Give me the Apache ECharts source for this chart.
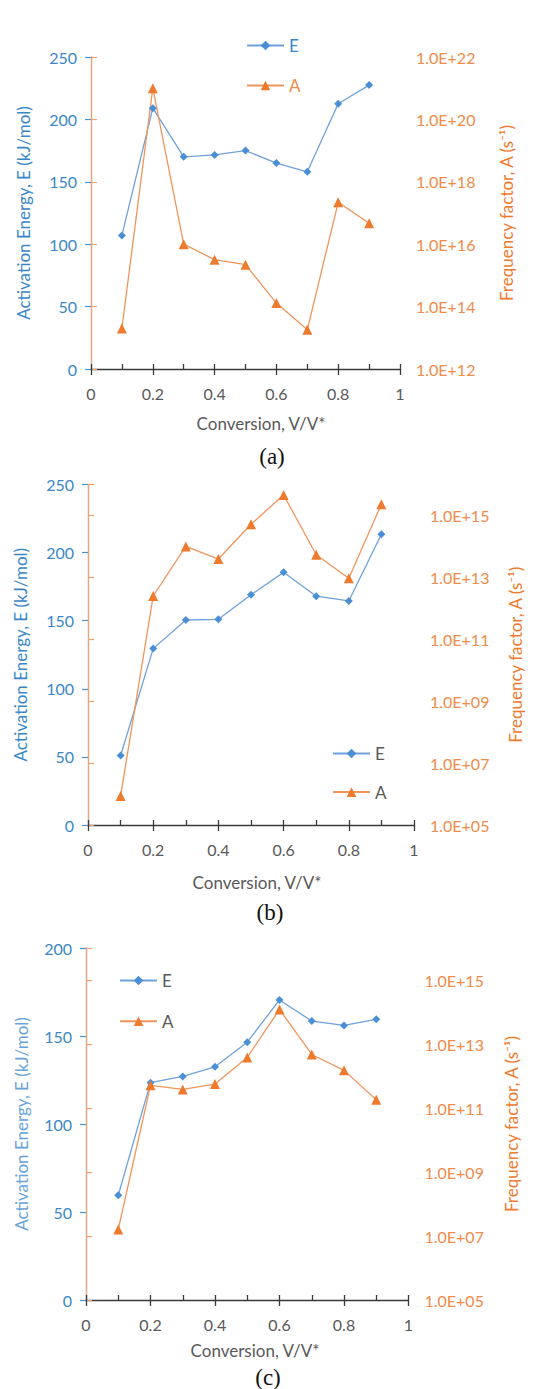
<!DOCTYPE html>
<html>
<head>
<meta charset="utf-8">
<script src="https://cdn.jsdelivr.net/npm/echarts@6/dist/echarts.min.js"></script>
<style>
html,body{margin:0;padding:0;background:#fff;}
#chart{width:556px;height:1389px;}
</style>
</head>
<body>
<div id="chart"></div>
<script>
// ---- data ----
const conversion = [0.1, 0.2, 0.3, 0.4, 0.5, 0.6, 0.7, 0.8, 0.9];
const E_a = [107, 209, 170, 171.5, 175, 165, 158, 212.5, 227.5];
const A_a = [2e13, 1e21, 1e16, 3.2e15, 2.2e15, 1.3e14, 1.8e13, 2.2e17, 4.7e16];
const E_b = [51, 129.5, 150.5, 151, 169, 185.5, 168, 164.5, 213.5];
const A_b = [8.7e5, 2.5e12, 1e14, 3.9e13, 5.2e14, 4.6e15, 5.4e13, 9.4e12, 2.3e15];
const E_c = [59.5, 123.5, 127, 132.5, 146.5, 170.5, 158.5, 156, 159.5];
const A_c = [1.6e7, 5.1e11, 3.8e11, 5.6e11, 3.8e12, 1.2e14, 4.7e12, 1.5e12, 1.8e11];
const xTicks = [0, 0.2, 0.4, 0.6, 0.8, 1];
const panelLabels = ['(a)', '(b)', '(c)'];
const xTitle = 'Conversion, V/V*';
const leftTitle = 'Activation Energy, E (kJ/mol)';
const rightTitle = 'Frequency factor, A (s\u207B\u00B9)';

// ---- styles ----
const FONT = 'Lato';
const blueLine = '#6fa1da';
const blueMark = '#4a8fd6';
const blueAxis = '#4a92d0';
const blueLabel = '#3a87c8';
const orangeLine = '#f0955a';
const orangeMark = '#ee7a2e';
const orangeAxis = '#f2a26e';
const orangeLabel = '#f08b4a';
const gray = '#595959';

const panels = [
  {E: E_a, A: A_a, left: 91, right: 400, top: 57, bottom: 369, yMax: 250, logMin: 1e12, logMax: 1e22,
   leg: {left: 241, top: 32, gap: 23, textColors: [blueLabel, orangeLabel]},
   leftTitle: {x: 23, color: blueLabel}, rightTitle: {x: 506},
   xTitleY: 423, xTitleX: 261, capX: 272, capY: 456},
  {E: E_b, A: A_b, left: 88, right: 414, top: 484.5, bottom: 825, yMax: 250, logMin: 1e5, logMax: 1e16,
   leg: {left: 327, top: 740, gap: 21.6, textColors: [gray, gray]},
   leftTitle: {x: 20, color: blueLabel}, rightTitle: {x: 515},
   xTitleY: 882, xTitleX: 257, capX: 270, capY: 912},
  {E: E_c, A: A_c, left: 86, right: 408.5, top: 948, bottom: 1300, yMax: 200, logMin: 1e5, logMax: 1e16,
   leg: {left: 114, top: 967, gap: 23.7, textColors: [gray, gray]},
   leftTitle: {x: 21, color: '#6aa3d8'}, rightTitle: {x: 511},
   xTitleY: 1350, xTitleX: 255, capX: 268, capY: 1377}
];

const grids = [], xAxes = [], yAxes = [], series = [], legends = [], graphics = [];

panels.forEach((p, i) => {
  grids.push({left: p.left, width: p.right - p.left, top: p.top, height: p.bottom - p.top, containLabel: false});
  xAxes.push({
    type: 'value', gridIndex: i, min: 0, max: 1, interval: 0.2, position: 'bottom',
    axisLine: {show: true, onZero: false, lineStyle: {color: '#3a3a3a', width: 1.3}},
    axisTick: {show: true, inside: false, length: 6, lineStyle: {color: '#3a3a3a', width: 1.3}},
    axisLabel: {color: gray, fontFamily: FONT, fontSize: 16, margin: 16,
      formatter: v => { const t = xTicks.find(x => Math.abs(x - v) < 1e-9); return t === undefined ? '' : String(t); }},
    splitLine: {show: false}
  });
  xAxes.push({
    type: 'value', gridIndex: i, min: 0, max: 1, interval: 0.1, position: 'bottom',
    axisLine: {show: false, onZero: false},
    axisTick: {show: true, inside: true, length: 5, lineStyle: {color: '#3a3a3a', width: 1.3}},
    axisLabel: {show: false},
    splitLine: {show: false}
  });
  yAxes.push({
    type: 'value', gridIndex: i, min: 0, max: p.yMax, interval: 50, position: 'left',
    axisLine: {show: true, lineStyle: {color: blueAxis, width: 1.2}},
    axisTick: {show: true, inside: false, length: 6, lineStyle: {color: blueAxis, width: 1.2}},
    axisLabel: {color: blueLabel, fontFamily: FONT, fontSize: 16, margin: 14},
    splitLine: {show: false}
  });
  const minExp = Math.round(Math.log10(p.logMin));
  yAxes.push({
    type: 'log', logBase: 10, gridIndex: i, min: p.logMin, max: p.logMax, interval: 2, position: 'right',
    axisLine: {show: true, lineStyle: {color: orangeAxis, width: 1.2}},
    axisTick: {show: true, inside: false, length: 6, lineStyle: {color: orangeAxis, width: 1.2}},
    axisLabel: {color: orangeLabel, fontFamily: FONT, fontSize: 16, margin: 16,
      formatter: v => { const e = Math.round(Math.log10(v)); return ((e - minExp) % 2 === 0) ? ('1.0E+' + (e < 10 ? '0' + e : e)) : ''; }},
    splitLine: {show: false}
  });
  series.push({
    name: 'E', type: 'line', xAxisIndex: i * 2, yAxisIndex: i * 2,
    data: conversion.map((x, k) => [x, p.E[k]]),
    symbol: 'diamond', symbolSize: 8,
    lineStyle: {color: blueLine, width: 1.3},
    itemStyle: {color: blueMark},
    emphasis: {disabled: true}, animation: false
  });
  series.push({
    name: 'A', type: 'line', xAxisIndex: i * 2, yAxisIndex: i * 2 + 1,
    data: conversion.map((x, k) => [x, p.A[k]]),
    symbol: 'triangle', symbolSize: 10,
    lineStyle: {color: orangeLine, width: 1.3},
    itemStyle: {color: orangeMark},
    emphasis: {disabled: true}, animation: false
  });
  legends.push({
    orient: 'vertical', left: p.leg.left, top: p.leg.top, itemGap: p.leg.gap,
    itemWidth: 37, itemHeight: 12, selectedMode: false,
    textStyle: {fontFamily: FONT, fontSize: 17},
    data: [
      {name: 'E', textStyle: {color: p.leg.textColors[0]}},
      {name: 'A', textStyle: {color: p.leg.textColors[1]}}
    ]
  });
  const midY = (p.top + p.bottom) / 2;
  graphics.push({
    type: 'text', x: p.leftTitle.x, y: midY, rotation: Math.PI / 2,
    style: {text: leftTitle, fill: p.leftTitle.color, font: '17px ' + FONT, align: 'center', verticalAlign: 'middle'}
  });
  graphics.push({
    type: 'text', x: p.rightTitle.x, y: midY, rotation: Math.PI / 2,
    style: {text: rightTitle, fill: orangeMark, font: '17px ' + FONT, align: 'center', verticalAlign: 'middle'}
  });
  graphics.push({
    type: 'text', x: p.xTitleX, y: p.xTitleY,
    style: {text: xTitle, fill: gray, font: '17px ' + FONT, align: 'center', verticalAlign: 'middle'}
  });
  graphics.push({
    type: 'text', x: p.capX, y: p.capY,
    style: {text: panelLabels[i], fill: '#111', font: '23px "Liberation Serif"', align: 'center', verticalAlign: 'middle'}
  });
});

const chart = echarts.init(document.getElementById('chart'), null, {renderer: 'svg'});
chart.setOption({
  animation: false,
  backgroundColor: '#fff',
  grid: grids,
  xAxis: xAxes,
  yAxis: yAxes,
  legend: legends,
  series: series,
  graphic: graphics
});
</script>
</body>
</html>
